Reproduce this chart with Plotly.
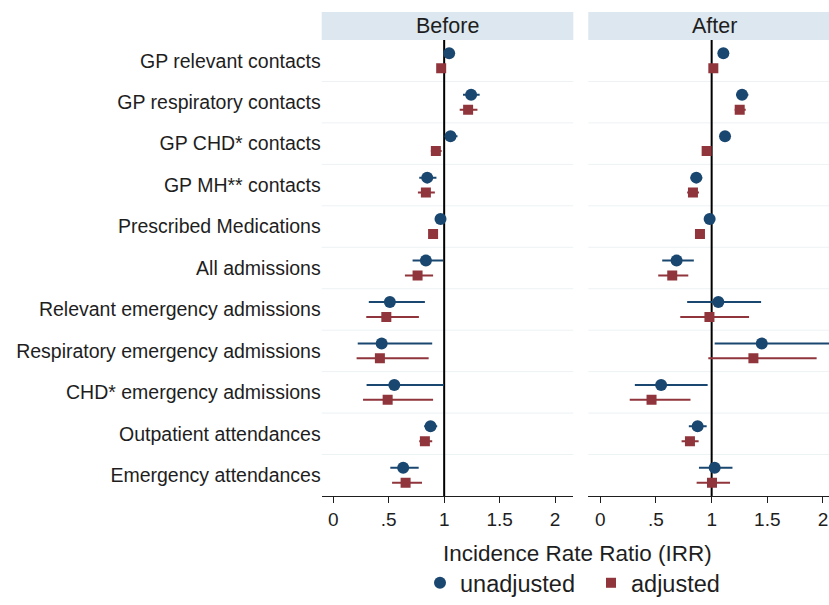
import plotly.graph_objects as go

outcomes = [
    "GP relevant contacts",
    "GP respiratory contacts",
    "GP CHD* contacts",
    "GP MH** contacts",
    "Prescribed Medications",
    "All admissions",
    "Relevant emergency admissions",
    "Respiratory emergency admissions",
    "CHD* emergency admissions",
    "Outpatient attendances",
    "Emergency attendances",
]

# Before period: IRR and 95% CI
before_unadj = [1.045, 1.243, 1.057, 0.847, 0.967, 0.835, 0.51, 0.436, 0.55, 0.877, 0.63]
before_unadj_lo = [1.03, 1.17, 1.01, 0.775, 0.955, 0.715, 0.32, 0.22, 0.30, 0.82, 0.514]
before_unadj_hi = [1.06, 1.32, 1.12, 0.93, 0.98, 0.99, 0.826, 0.892, 0.997, 0.937, 0.77]
before_adj = [0.973, 1.216, 0.925, 0.835, 0.90, 0.76, 0.478, 0.42, 0.49, 0.826, 0.652]
before_adj_lo = [0.96, 1.14, 0.88, 0.763, 0.89, 0.646, 0.297, 0.21, 0.268, 0.775, 0.53]
before_adj_hi = [0.985, 1.30, 0.977, 0.916, 0.91, 0.90, 0.772, 0.86, 0.90, 0.892, 0.80]

# After period
after_unadj = [1.105, 1.273, 1.12, 0.862, 0.982, 0.685, 1.06, 1.45, 0.546, 0.874, 1.027]
after_unadj_lo = [1.095, 1.22, 1.11, 0.81, 0.975, 0.556, 0.78, 1.027, 0.31, 0.795, 0.886]
after_unadj_hi = [1.115, 1.33, 1.13, 0.916, 0.99, 0.84, 1.444, 2.2, 0.964, 0.955, 1.187]
after_adj = [1.015, 1.252, 0.955, 0.832, 0.895, 0.646, 0.98, 1.375, 0.46, 0.805, 1.003]
after_adj_lo = [1.005, 1.207, 0.945, 0.78, 0.885, 0.52, 0.718, 0.97, 0.264, 0.73, 0.865]
after_adj_hi = [1.025, 1.306, 0.965, 0.886, 0.905, 0.79, 1.336, 1.943, 0.81, 0.883, 1.165]

tick_vals = [0, 0.5, 1, 1.5, 2]
tick_text = ["0", ".5", "1", "1.5", "2"]

NAVY = "#1a476f"
MAROON = "#90353b"
STRIP = "#dce7ef"
GRID = "#edf2f4"
INK = "#1e1e1e"
FONT = "Liberation Sans, Arial, sans-serif"

W, H = 829, 605
rows = list(range(len(outcomes)))
off = 0.18


def px_x(p):
    return p / W


def px_y(p):
    return (H - p) / H


fig = go.Figure()


def add_series(est, lo, hi, xa, ya, name, color, symbol, size, dy, show):
    fig.add_trace(go.Scatter(
        x=est,
        y=[r + dy for r in rows],
        mode="markers",
        name=name,
        legendgroup=name,
        showlegend=show,
        marker=dict(color=color, symbol=symbol, size=size),
        error_x=dict(
            type="data",
            symmetric=False,
            array=[h - e for h, e in zip(hi, est)],
            arrayminus=[e - l for e, l in zip(est, lo)],
            color=color,
            thickness=2,
            width=0,
        ),
        xaxis=xa,
        yaxis=ya,
    ))


add_series(before_unadj, before_unadj_lo, before_unadj_hi, "x", "y",
           "unadjusted", NAVY, "circle", 12, -off, True)
add_series(before_adj, before_adj_lo, before_adj_hi, "x", "y",
           "adjusted", MAROON, "square", 10, off, True)
add_series(after_unadj, after_unadj_lo, after_unadj_hi, "x2", "y2",
           "unadjusted", NAVY, "circle", 12, -off, False)
add_series(after_adj, after_adj_lo, after_adj_hi, "x2", "y2",
           "adjusted", MAROON, "square", 10, off, False)

y_dom = [px_y(496), px_y(40)]
left_dom = [px_x(321.7), px_x(573.3)]
right_dom = [px_x(588.3), 1.0]

xaxis_common = dict(
    tickvals=tick_vals,
    ticktext=tick_text,
    showgrid=False,
    zeroline=False,
    showline=True,
    linecolor=INK,
    linewidth=1,
    ticks="outside",
    ticklen=6,
    tickcolor=INK,
    tickfont=dict(family=FONT, size=19, color=INK),
    automargin=False,
)

yaxis_common = dict(
    domain=y_dom,
    range=[10.5, -0.5],
    showgrid=False,
    zeroline=False,
    showline=False,
    ticks="",
    automargin=False,
)

fig.update_layout(
    width=W,
    height=H,
    autosize=False,
    margin=dict(l=0, r=0, t=0, b=0),
    paper_bgcolor="white",
    plot_bgcolor="white",
    font=dict(family=FONT, color=INK),
    xaxis=dict(xaxis_common, domain=left_dom, range=[-0.105, 2.165], anchor="y"),
    xaxis2=dict(xaxis_common, domain=right_dom, range=[-0.108, 2.054], anchor="y2"),
    yaxis=dict(
        yaxis_common,
        tickvals=rows,
        ticktext=outcomes,
        tickfont=dict(family=FONT, size=19.5, color=INK),
        anchor="x",
    ),
    yaxis2=dict(yaxis_common, showticklabels=False, anchor="x2"),
    showlegend=True,
    legend=dict(
        orientation="h",
        x=px_x(591),
        xanchor="center",
        y=0,
        yanchor="bottom",
        font=dict(family=FONT, size=23.5, color=INK),
        itemwidth=30,
        entrywidth=126,
    ),
)

shapes = []
for xa, dom in (("x", left_dom), ("x2", right_dom)):
    ya = "y" if xa == "x" else "y2"
    # faint row separators
    for r in rows[:-1]:
        shapes.append(dict(type="line", xref=f"{xa} domain", yref=ya,
                           x0=0, x1=1, y0=r + 0.5, y1=r + 0.5,
                           line=dict(color=GRID, width=1), layer="below"))
    # reference line at IRR = 1
    shapes.append(dict(type="line", xref=xa, yref=f"{ya} domain",
                       x0=1, x1=1, y0=0, y1=1,
                       line=dict(color="black", width=2), layer="below"))
    # panel header strip
    shapes.append(dict(type="rect", xref="paper", yref="paper",
                       x0=dom[0], x1=dom[1], y0=px_y(40), y1=px_y(12),
                       fillcolor=STRIP, line=dict(width=0), layer="below"))
fig.update_layout(shapes=shapes)

annotations = [
    dict(text="Before", x=(left_dom[0] + left_dom[1]) / 2, y=px_y(26),
         xref="paper", yref="paper", showarrow=False,
         xanchor="center", yanchor="middle",
         font=dict(family=FONT, size=21.5, color=INK)),
    dict(text="After", x=(px_x(588.3) + px_x(841)) / 2, y=px_y(26),
         xref="paper", yref="paper", showarrow=False,
         xanchor="center", yanchor="middle",
         font=dict(family=FONT, size=21.5, color=INK)),
    dict(text="Incidence Rate Ratio (IRR)", x=px_x(577), y=px_y(553),
         xref="paper", yref="paper", showarrow=False,
         xanchor="center", yanchor="middle",
         font=dict(family=FONT, size=22.5, color=INK)),
]
fig.update_layout(annotations=annotations)

fig.write_html(
    "out.html",
    config={"displayModeBar": False, "responsive": False},
    default_width="829px",
    default_height="605px",
    post_script="document.body.style.margin='0';document.body.style.overflow='hidden';",
)
